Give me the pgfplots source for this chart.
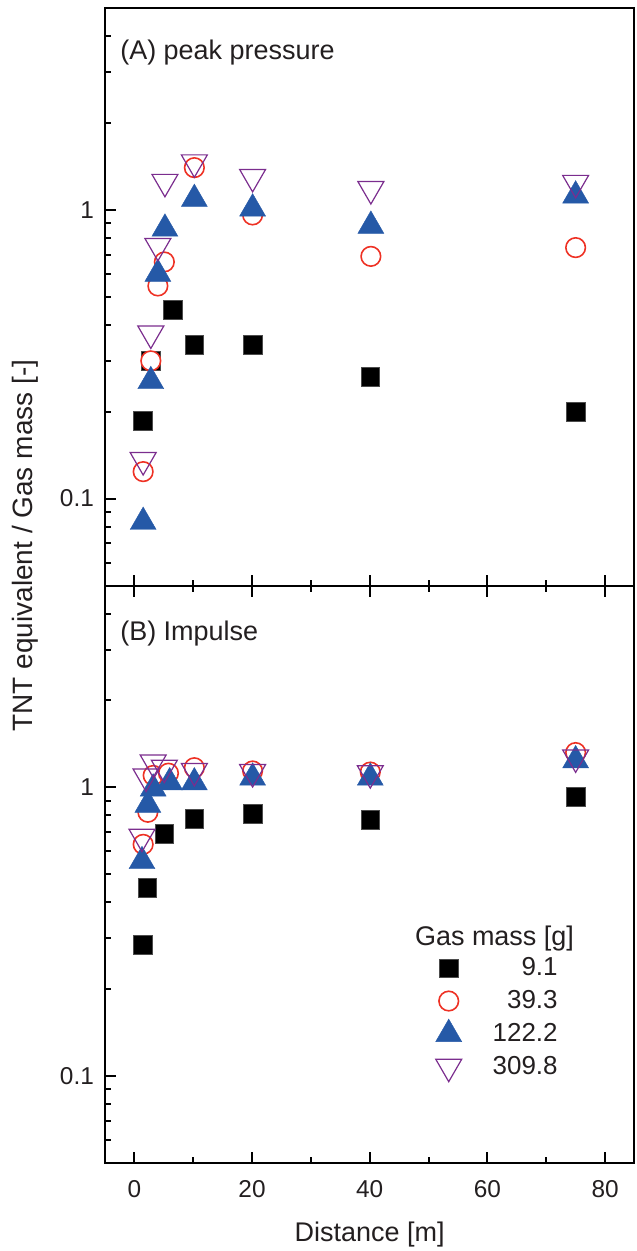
\documentclass[border=0pt]{standalone}
\usepackage{fontspec}
\setmainfont{Liberation Sans}
\usepackage{pgfplots}
\pgfplotsset{compat=1.18}
\definecolor{txt}{HTML}{231F20}
\definecolor{cred}{HTML}{EE3124}
\definecolor{cblue}{HTML}{2559A7}
\definecolor{cpurp}{HTML}{7B2D8E}
\pgfplotsset{
  panel/.style={
    scale only axis, width=265pt, height=289pt,
    xmin=-5, xmax=85, ymin=0.05, ymax=5,
    xtick={0,20,40,60,80}, minor xtick={10,30,50,70},
    ytick={0.1,1}, yticklabels={0.1,1},
    minor ytick={0.06,0.07,0.08,0.09,0.2,0.3,0.4,0.5,0.6,0.7,0.8,0.9,2,3,4},
    ytick pos=left, tick align=inside,
    axis line style={line width=1pt, black},
    every tick/.style={line width=1pt, black},
    major tick length=5.5pt, minor tick length=3pt,
    /pgf/number format/assume math mode=true,
    tick label style={font=\fontsize{12.2}{14}\selectfont, text=txt},
    yticklabel style={xshift=-2pt},
    xticklabel style={yshift=-5pt},
    clip=false,
  },
  sq/.style={only marks, mark=square*, mark size=4.7pt, mark options={fill=black, draw=black!70, line width=0.3pt}},
  ci/.style={only marks, mark=*, mark size=4.9pt, mark options={draw=cred, line width=0.8pt, fill=white}},
  ut/.style={only marks, mark=triangle*, mark size=7.5pt, mark options={fill=cblue, draw=cblue, line width=0.2pt}},
  dt/.style={only marks, mark=triangle, mark size=7.5pt, mark options={draw=cpurp, line width=0.6pt, fill=none, rotate=180}},
}
\begin{document}
\begin{tikzpicture}
\begin{semilogyaxis}[panel, name=A, at={(0,0)}, anchor=south west,
  xtick pos=lower, xticklabels={}]
\addplot[sq] coordinates {(1.5,0.186) (2.8,0.30) (6.5,0.452) (10.2,0.34) (20.1,0.34) (40.1,0.264) (75,0.2)};
\addplot[ci] coordinates {(1.5,0.124) (2.8,0.30) (4.0,0.545) (5.1,0.66) (10.2,1.40) (20.1,0.96) (40.2,0.69) (75,0.74)};
\addplot[ut] coordinates {(1.5,0.083) (2.8,0.255) (4.0,0.60) (5.2,0.86) (10.2,1.09) (20.1,1.01) (40.2,0.88) (75,1.12)};
\addplot[dt] coordinates {(1.5,0.136) (2.8,0.373) (4.0,0.75) (5.2,1.25) (10.2,1.46) (20.1,1.30) (40.2,1.18) (75,1.24)};
\node[anchor=base west, inner sep=0, text=txt, font=\fontsize{13.5}{16}\selectfont] at (rel axis cs:0,1) [xshift=7.5pt, yshift=-26pt] {(A) peak pressure};
\end{semilogyaxis}
\begin{semilogyaxis}[panel, name=B, at={(0,0)}, anchor=north west,
  xtick pos=both, xticklabel pos=lower,
  xlabel={Distance [m]},
  xlabel style={font=\fontsize{13.5}{16}\selectfont, text=txt, yshift=-5.5pt},
  legend style={at={(axis description cs:0.624,0.363)}, anchor=north west, draw=none, fill=none,
    inner sep=0pt, font=\fontsize{13}{15}\selectfont, text=txt, row sep=1.75pt, column sep=16pt},
  legend cell align=right]
\addplot[sq] coordinates {(1.5,0.285) (2.2,0.45) (5.1,0.69) (10.2,0.78) (20.1,0.81) (40.1,0.77) (75,0.93)};
\addlegendentry{\makebox[30pt][r]{9.1}}
\addplot[ci] coordinates {(1.5,0.635) (2.3,0.82) (3.2,1.10) (5.8,1.12) (10.2,1.17) (20.1,1.14) (40.1,1.13) (75,1.32)};
\addlegendentry{\makebox[30pt][r]{39.3}}
\addplot[ut] coordinates {(1.3,0.555) (2.3,0.87) (3.2,0.99) (6.0,1.04) (10.2,1.04) (20.1,1.08) (40.1,1.08) (75,1.24)};
\addlegendentry{\makebox[30pt][r]{122.2}}
\addplot[dt] coordinates {(1.3,0.675) (2.0,1.09) (3.2,1.22) (5.1,1.17) (10.2,1.14) (20.1,1.13) (40.1,1.12) (75,1.27)};
\addlegendentry{\makebox[30pt][r]{309.8}}
\node[anchor=base west, inner sep=0, text=txt, font=\fontsize{13.5}{16}\selectfont] at (rel axis cs:0,1) [xshift=7.5pt, yshift=-27.5pt] {(B) Impulse};
\node[anchor=base west, inner sep=0, text=txt, font=\fontsize{13.5}{16}\selectfont] at (rel axis cs:0,1) [xshift=155pt, yshift=-180pt] {Gas mass [g]};
\end{semilogyaxis}
\node[rotate=90, text=txt, font=\fontsize{14}{16}\selectfont] at (-40pt,20pt) {TNT equivalent / Gas mass [-]};
\pgfresetboundingbox
\path[use as bounding box] (-52.5pt,-333pt) rectangle (266pt,293pt);
\end{tikzpicture}
\end{document}
